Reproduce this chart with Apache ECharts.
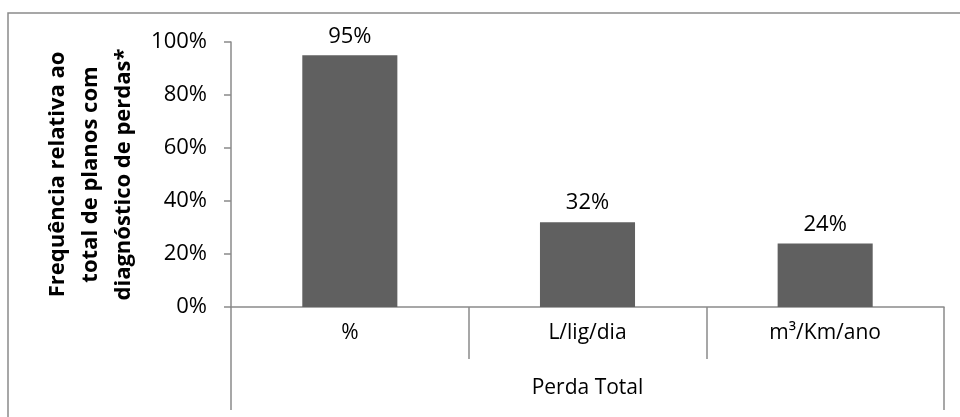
<!DOCTYPE html>
<html>
<head>
<meta charset="utf-8">
<script src="https://cdn.jsdelivr.net/npm/echarts@6/dist/echarts.min.js"></script>
<style>
  html, body { margin: 0; padding: 0; background: #fff; }
  #chart { width: 960px; height: 417px; }
</style>
</head>
<body>
<div id="chart"></div>
<script>
// Units in which total losses are reported
const categories = ['%', 'L/lig/dia', 'm³/Km/ano'];
// Group label spanning all units
const groups = ['Perda Total'];
// Relative frequency (%) of loss-diagnosis plans using each unit
const values = [95, 32, 24];
const yTicks = [0, 20, 40, 60, 80, 100];

const FONT = '"Open Sans", Lato, sans-serif';
const AXIS = '#8a8a8a';
const FS = 22;

const chart = echarts.init(document.getElementById('chart'), null, { renderer: 'canvas' });

chart.setOption({
  animation: false,
  backgroundColor: '#fff',
  textStyle: { fontFamily: FONT },
  graphic: [{
    type: 'rect',
    shape: { x: 8, y: 13, width: 980, height: 440 },
    style: { fill: 'none', stroke: AXIS, lineWidth: 1.5 },
    silent: true
  }],
  grid: { left: 231, right: 16, top: 42, bottom: 110, containLabel: false },
  xAxis: [{
    type: 'category',
    data: categories,
    position: 'bottom',
    axisLine: { show: true, lineStyle: { color: AXIS, width: 1.5 } },
    axisTick: { show: true, length: 52, alignWithLabel: false, lineStyle: { color: AXIS, width: 1.5 } },
    axisLabel: { color: '#000', fontSize: 21, fontFamily: FONT, margin: 16 }
  }, {
    type: 'category',
    data: groups,
    position: 'bottom',
    axisLine: { show: false },
    axisTick: { show: true, length: 103, lineStyle: { color: AXIS, width: 1.5 } },
    axisLabel: { color: '#000', fontSize: 21, fontFamily: FONT, margin: 71 }
  }],
  yAxis: {
    type: 'value',
    min: 0,
    max: 100,
    interval: 20,
    name: 'Frequência relativa ao\ntotal de planos com\ndiagnóstico de perdas*',
    nameLocation: 'middle',
    nameGap: 88,
    nameTextStyle: { color: '#000', fontSize: 22, fontWeight: 'bold', fontFamily: FONT, lineHeight: 33 },
    axisLine: { show: true, lineStyle: { color: AXIS, width: 1.5 } },
    axisTick: { show: true, length: 7, lineStyle: { color: AXIS, width: 1.5 } },
    splitLine: { show: false },
    axisLabel: {
      color: '#000', fontSize: FS, fontFamily: FONT, margin: 24,
      formatter: v => yTicks.includes(v) ? v + '%' : ''
    }
  },
  series: [{
    type: 'bar',
    xAxisIndex: 0,
    data: values,
    barWidth: '40%',
    itemStyle: { color: '#606060' },
    label: {
      show: true,
      position: 'top',
      distance: 8,
      color: '#000',
      fontSize: FS,
      fontFamily: FONT,
      formatter: p => p.value + '%'
    }
  }]
});
</script>
</body>
</html>
